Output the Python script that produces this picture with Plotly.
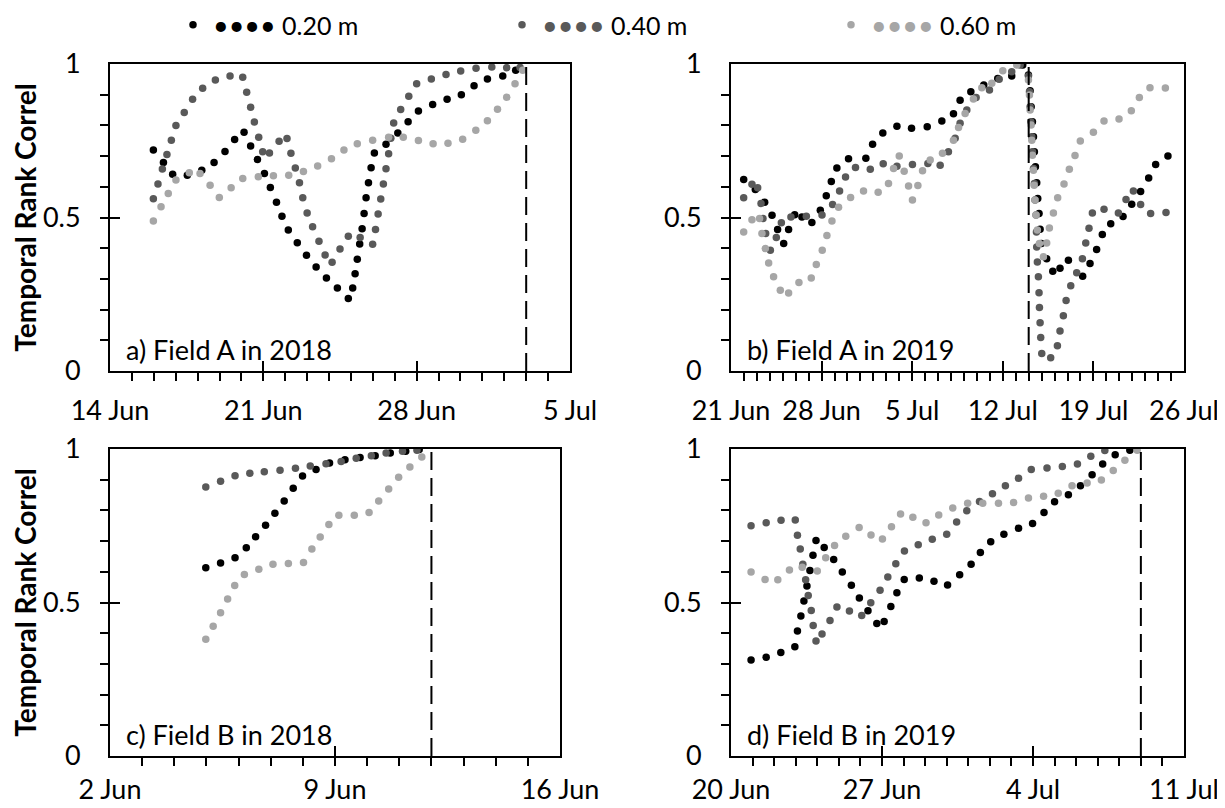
import pandas as pd
import plotly.graph_objects as go

# x values: day number counted from 31 May of the year (1 = 1 Jun, 31 = 1 Jul)
# ---------- a) Field A in 2018 ----------
a20_day = [15.98,16.44,16.86,17.53,18.19,18.75,19.25,19.69,20.12,20.42,20.73,21.05,21.32,21.60,21.85,22.14,22.55,22.97,23.41,23.88,24.38,24.88,25.08,25.19,25.29,25.40,25.51,25.60,25.69,25.80,25.92,26.07,26.60,27.14,27.61,28.08,28.73,29.39,30.04,30.62,31.23,31.93,32.52]
a20_r = [0.720,0.679,0.641,0.638,0.654,0.679,0.715,0.754,0.778,0.733,0.689,0.643,0.598,0.550,0.504,0.459,0.418,0.377,0.339,0.303,0.270,0.236,0.270,0.317,0.364,0.414,0.463,0.513,0.564,0.613,0.662,0.710,0.739,0.775,0.812,0.847,0.868,0.885,0.900,0.929,0.951,0.961,0.980]
a40_day = [15.98,16.19,16.39,16.60,16.80,17.01,17.39,17.77,18.23,18.81,19.48,20.06,20.24,20.42,20.59,20.79,20.97,21.28,21.72,22.08,22.26,22.46,22.65,22.80,23.00,23.25,23.54,23.82,24.14,24.50,24.88,25.42,25.99,26.12,26.24,26.36,26.48,26.60,26.72,26.82,26.95,27.27,27.64,28.00,28.67,29.34,30.01,30.71,31.43,32.11,32.72]
a40_r = [0.561,0.609,0.658,0.705,0.752,0.800,0.842,0.885,0.921,0.948,0.961,0.957,0.908,0.859,0.811,0.761,0.714,0.710,0.748,0.757,0.709,0.661,0.613,0.564,0.515,0.470,0.423,0.378,0.354,0.397,0.439,0.435,0.413,0.461,0.511,0.560,0.609,0.659,0.708,0.758,0.808,0.852,0.895,0.936,0.951,0.966,0.977,0.986,0.990,0.988,0.989]
a60_day = [15.98,16.33,16.66,17.01,17.62,18.11,18.57,18.99,19.53,20.06,20.77,21.46,22.16,22.83,23.48,24.11,24.68,25.29,25.99,26.72,27.39,28.08,28.75,29.43,30.10,30.70,31.23,31.69,32.11,32.49,32.84]
a60_r = [0.489,0.535,0.578,0.622,0.646,0.643,0.605,0.565,0.597,0.627,0.633,0.636,0.638,0.650,0.668,0.691,0.720,0.740,0.752,0.761,0.761,0.751,0.740,0.742,0.755,0.784,0.815,0.853,0.892,0.936,0.980]

# ---------- b) Field A in 2019 ----------
b20_day = [21.98,22.88,23.60,24.17,24.60,25.07,25.45,25.92,26.48,27.25,27.90,28.36,28.75,29.18,30.08,31.42,31.94,32.73,33.82,34.95,36.16,37.29,38.19,38.70,39.53,40.53,41.61,42.69,43.54,43.98,44.11,44.19,44.29,44.37,44.44,44.52,44.62,44.70,44.80,44.88,44.98,45.39,45.86,46.42,47.07,48.17,48.74,49.25,49.69,50.34,51.29,51.96,52.65,53.27,53.81,54.76]
b20_r = [0.624,0.591,0.550,0.507,0.461,0.415,0.461,0.509,0.502,0.484,0.524,0.571,0.617,0.661,0.691,0.693,0.739,0.775,0.797,0.791,0.796,0.814,0.838,0.882,0.910,0.932,0.953,0.961,0.997,0.964,0.913,0.861,0.812,0.763,0.714,0.665,0.613,0.562,0.513,0.462,0.415,0.366,0.325,0.335,0.361,0.309,0.350,0.396,0.445,0.480,0.503,0.543,0.585,0.629,0.673,0.700]
b40_day = [21.98,22.62,23.06,23.32,23.47,23.68,24.04,24.50,24.89,25.63,26.82,28.03,28.85,29.39,29.85,30.62,31.76,32.76,33.82,35.02,36.21,37.16,37.80,38.32,38.70,39.22,39.94,40.97,41.72,42.69,43.34,43.98,44.06,44.11,44.16,44.24,44.29,44.37,44.44,44.49,44.57,44.60,44.62,44.67,44.75,44.80,44.83,44.88,44.93,45.01,45.70,46.22,46.42,46.68,46.89,47.25,47.71,48.15,48.41,48.66,48.92,49.82,50.93,51.52,52.09,52.65,53.42,54.61]
b40_r = [0.564,0.608,0.597,0.546,0.497,0.448,0.393,0.435,0.483,0.502,0.504,0.508,0.542,0.586,0.632,0.663,0.657,0.675,0.667,0.673,0.676,0.670,0.714,0.758,0.807,0.850,0.891,0.915,0.950,0.975,0.997,0.961,0.910,0.861,0.812,0.763,0.714,0.660,0.611,0.557,0.508,0.453,0.404,0.355,0.307,0.255,0.207,0.157,0.109,0.057,0.043,0.082,0.130,0.180,0.230,0.278,0.320,0.366,0.417,0.465,0.515,0.527,0.515,0.559,0.586,0.542,0.513,0.516]
b60_day = [21.98,22.62,23.21,23.39,23.65,23.91,24.29,24.81,25.45,26.25,27.20,27.59,28.05,28.41,28.80,29.31,30.24,31.24,32.37,33.17,33.56,34.00,34.38,34.72,35.02,35.44,35.80,36.39,37.34,38.19,38.58,39.09,39.73,40.38,41.15,42.00,43.08,43.98,44.06,44.11,44.19,44.24,44.29,44.37,44.42,44.49,44.57,44.67,44.83,45.14,45.39,45.60,45.91,46.24,46.73,47.14,47.58,47.99,49.00,49.82,50.98,51.93,52.55,53.37,54.56]
b60_r = [0.453,0.493,0.497,0.448,0.399,0.352,0.307,0.263,0.254,0.288,0.303,0.347,0.393,0.441,0.489,0.533,0.565,0.586,0.582,0.611,0.660,0.700,0.651,0.603,0.557,0.604,0.652,0.687,0.709,0.752,0.793,0.839,0.886,0.923,0.937,0.978,0.997,0.948,0.899,0.850,0.801,0.752,0.703,0.654,0.605,0.557,0.508,0.459,0.415,0.372,0.417,0.466,0.515,0.564,0.609,0.657,0.702,0.749,0.778,0.814,0.821,0.848,0.891,0.923,0.922]

# ---------- c) Field B in 2018 ----------
c20_day = [4.98,5.44,5.89,6.24,6.53,6.84,7.13,7.42,7.70,7.99,8.41,8.83,9.31,9.78,10.25,10.72,11.20,11.62]
c20_r = [0.613,0.629,0.646,0.678,0.714,0.752,0.791,0.831,0.872,0.912,0.933,0.954,0.965,0.972,0.978,0.987,0.993,0.998]
c40_day = [4.98,5.44,5.89,6.35,6.80,7.29,7.77,8.23,8.72,9.19,9.66,10.13,10.59,11.10,11.55]
c40_r = [0.876,0.895,0.913,0.921,0.926,0.931,0.937,0.945,0.952,0.959,0.970,0.978,0.987,0.993,0.996]
c60_day = [4.98,5.21,5.44,5.66,5.88,6.18,6.63,7.07,7.55,8.02,8.28,8.54,8.81,9.12,9.60,10.06,10.36,10.67,10.98,11.33,11.70]
c60_r = [0.380,0.423,0.467,0.511,0.555,0.591,0.608,0.625,0.627,0.630,0.674,0.713,0.754,0.784,0.784,0.793,0.831,0.870,0.908,0.941,0.974]

# ---------- d) Field B in 2019 ----------
d20_day = [20.93,21.63,22.31,22.96,23.08,23.24,23.38,23.52,23.66,23.80,23.94,24.32,24.76,25.16,25.58,25.95,26.35,26.76,27.10,27.41,27.69,28.03,28.73,29.41,30.04,30.60,31.13,31.56,32.04,32.65,33.33,33.98,34.51,35.00,35.64,36.20,36.74,37.23,37.81,38.49]
d20_r = [0.313,0.322,0.337,0.356,0.407,0.456,0.505,0.554,0.604,0.654,0.702,0.679,0.640,0.599,0.556,0.515,0.473,0.432,0.438,0.487,0.532,0.575,0.580,0.569,0.557,0.590,0.625,0.663,0.698,0.722,0.742,0.757,0.793,0.828,0.851,0.880,0.916,0.951,0.981,0.996]
d40_day = [20.93,21.63,22.32,22.98,23.08,23.21,23.33,23.46,23.58,23.72,23.81,23.94,24.22,24.59,24.91,25.49,26.06,26.48,26.91,27.27,27.64,28.04,28.68,29.33,30.00,30.46,30.93,31.52,32.12,32.72,33.33,33.92,34.65,35.36,36.06,36.68,37.33]
d40_r = [0.750,0.760,0.768,0.769,0.719,0.674,0.625,0.574,0.523,0.474,0.425,0.375,0.397,0.441,0.485,0.472,0.458,0.499,0.540,0.583,0.626,0.668,0.688,0.706,0.722,0.762,0.799,0.829,0.854,0.880,0.905,0.933,0.938,0.943,0.951,0.976,0.995]
d60_day = [20.93,21.58,22.17,22.71,23.30,24.00,24.39,24.80,25.32,25.94,26.49,27.02,27.44,27.86,28.43,29.04,29.63,30.28,30.97,31.67,32.40,33.10,33.79,34.49,35.17,35.81,36.51,37.17,37.72,38.26,38.83]
d60_r = [0.599,0.575,0.574,0.606,0.615,0.603,0.646,0.686,0.716,0.744,0.720,0.707,0.747,0.788,0.778,0.760,0.785,0.808,0.823,0.823,0.823,0.826,0.840,0.846,0.856,0.880,0.889,0.899,0.930,0.963,0.996]

depth_names = ["0.20 m", "0.40 m", "0.60 m"]
depth_colors = ["#000000", "#595959", "#a6a6a6"]

panel_labels = ["a) Field A in 2018", "b) Field A in 2019", "c) Field B in 2018", "d) Field B in 2019"]
panel_years = [2018, 2019, 2018, 2019]
panel_ranges = [("2018-06-14", "2018-07-05"), ("2019-06-21", "2019-07-26"),
                ("2018-06-02", "2018-06-16"), ("2019-06-20", "2019-07-11")]
panel_tickvals = [["2018-06-14", "2018-06-21", "2018-06-28", "2018-07-05"],
                  ["2019-06-21", "2019-06-28", "2019-07-05", "2019-07-12", "2019-07-19", "2019-07-26"],
                  ["2018-06-02", "2018-06-09", "2018-06-16"],
                  ["2019-06-20", "2019-06-27", "2019-07-04", "2019-07-11"]]
panel_ticktext = [["14 Jun", "21 Jun", "28 Jun", "5 Jul"],
                  ["21 Jun", "28 Jun", "5 Jul", "12 Jul", "19 Jul", "26 Jul"],
                  ["2 Jun", "9 Jun", "16 Jun"],
                  ["20 Jun", "27 Jun", "4 Jul", "11 Jul"]]
cutoff_dates = ["2018-07-03", "2019-07-14", "2018-06-12", "2019-07-09"]

series = [
    [(a20_day, a20_r), (a40_day, a40_r), (a60_day, a60_r)],
    [(b20_day, b20_r), (b40_day, b40_r), (b60_day, b60_r)],
    [(c20_day, c20_r), (c40_day, c40_r), (c60_day, c60_r)],
    [(d20_day, d20_r), (d40_day, d40_r), (d60_day, d60_r)],
]

# the page adds an 8 px body margin, so the figure is drawn 8 px smaller
W, H = 1217, 800
FONT = "Lato"
FS = 27

# plot-area boxes in figure pixels (left, right, top, bottom)
boxes = [(102, 562, 56, 363), (723, 1176, 56, 363), (102, 552, 441, 748), (723, 1176, 441, 748)]
label_standoff = [15, 15, 9, 9]


def to_dates(year, days):
    base = pd.Timestamp(year=year, month=5, day=31)
    return [base + pd.Timedelta(days=float(d)) for d in days]


fig = go.Figure()
legend_ids = ["legend", "legend2", "legend3"]

for p in range(4):
    ax = "" if p == 0 else str(p + 1)
    for k, (days, vals) in enumerate(series[p]):
        show = p == 0
        bullets = "<span style='color:%s;font-size:27px'>••••</span> " % depth_colors[k]
        fig.add_trace(go.Scatter(
            x=to_dates(panel_years[p], days), y=vals,
            mode="markers",
            marker=dict(size=7.5, color=depth_colors[k], line=dict(width=0)),
            name=bullets + depth_names[k],
            showlegend=show, legend=legend_ids[k],
            xaxis="x" + ax, yaxis="y" + ax,
        ))

layout = dict(
    width=W, height=H,
    margin=dict(l=0, r=0, t=0, b=0, autoexpand=False),
    paper_bgcolor="white", plot_bgcolor="white",
    font=dict(family=FONT, size=FS, color="#000000"),
    showlegend=True,
)

for p in range(4):
    ax = "" if p == 0 else str(p + 1)
    l, r, t, b = boxes[p]
    layout["xaxis" + ax] = dict(
        domain=[l / W, r / W], anchor="y" + ax,
        type="date", range=list(panel_ranges[p]),
        tickvals=panel_tickvals[p], ticktext=panel_ticktext[p],
        ticks="inside", ticklen=10, tickwidth=2, tickcolor="#000",
        minor=dict(ticks="outside", ticklen=8, tickwidth=2, tickcolor="#000",
                   dtick=86400000, tick0=panel_ranges[p][0]),
        showline=True, linecolor="#000", linewidth=2, mirror=True,
        showgrid=False, zeroline=False, ticklabelstandoff=label_standoff[p],
        tickfont=dict(size=FS), automargin=False,
    )
    layout["yaxis" + ax] = dict(
        domain=[1 - b / H, 1 - t / H], anchor="x" + ax,
        range=[0, 1], tickvals=[0, 0.5, 1], ticktext=["0", "0.5", "1"],
        ticks="inside", ticklen=10, tickwidth=2, tickcolor="#000",
        minor=dict(ticks="outside", ticklen=8, tickwidth=2, tickcolor="#000",
                   dtick=0.1, tick0=0),
        showline=True, linecolor="#000", linewidth=2, mirror=True,
        showgrid=False, zeroline=False, ticklabelstandoff=22,
        tickfont=dict(size=FS), automargin=False,
    )
    if p in (0, 2):
        layout["yaxis" + ax]["title"] = dict(text="<b>Temporal Rank Correl</b>",
                                             font=dict(size=28), standoff=6)

legend_x = [165, 494, 823]
for k, lid in enumerate(legend_ids):
    layout[lid] = dict(x=legend_x[k] / W, xanchor="left", y=1 - 17 / H, yanchor="middle",
                       orientation="h", bgcolor="rgba(0,0,0,0)", borderwidth=0,
                       font=dict(size=25, family=FONT), itemwidth=30)

fig.update_layout(**layout)

for p in range(4):
    ax = "" if p == 0 else str(p + 1)
    fig.add_shape(type="line", xref="x" + ax, yref="y" + ax + " domain",
                  x0=cutoff_dates[p], x1=cutoff_dates[p], y0=0, y1=1,
                  line=dict(color="#000", width=2, dash="18px,8px"), layer="above")
    fig.add_annotation(xref="x" + ax + " domain", yref="y" + ax + " domain",
                       x=0.03, y=0.01, xanchor="left", yanchor="bottom",
                       text=panel_labels[p], showarrow=False,
                       font=dict(size=FS, family=FONT, color="#000"))

fig.write_html("out.html")
